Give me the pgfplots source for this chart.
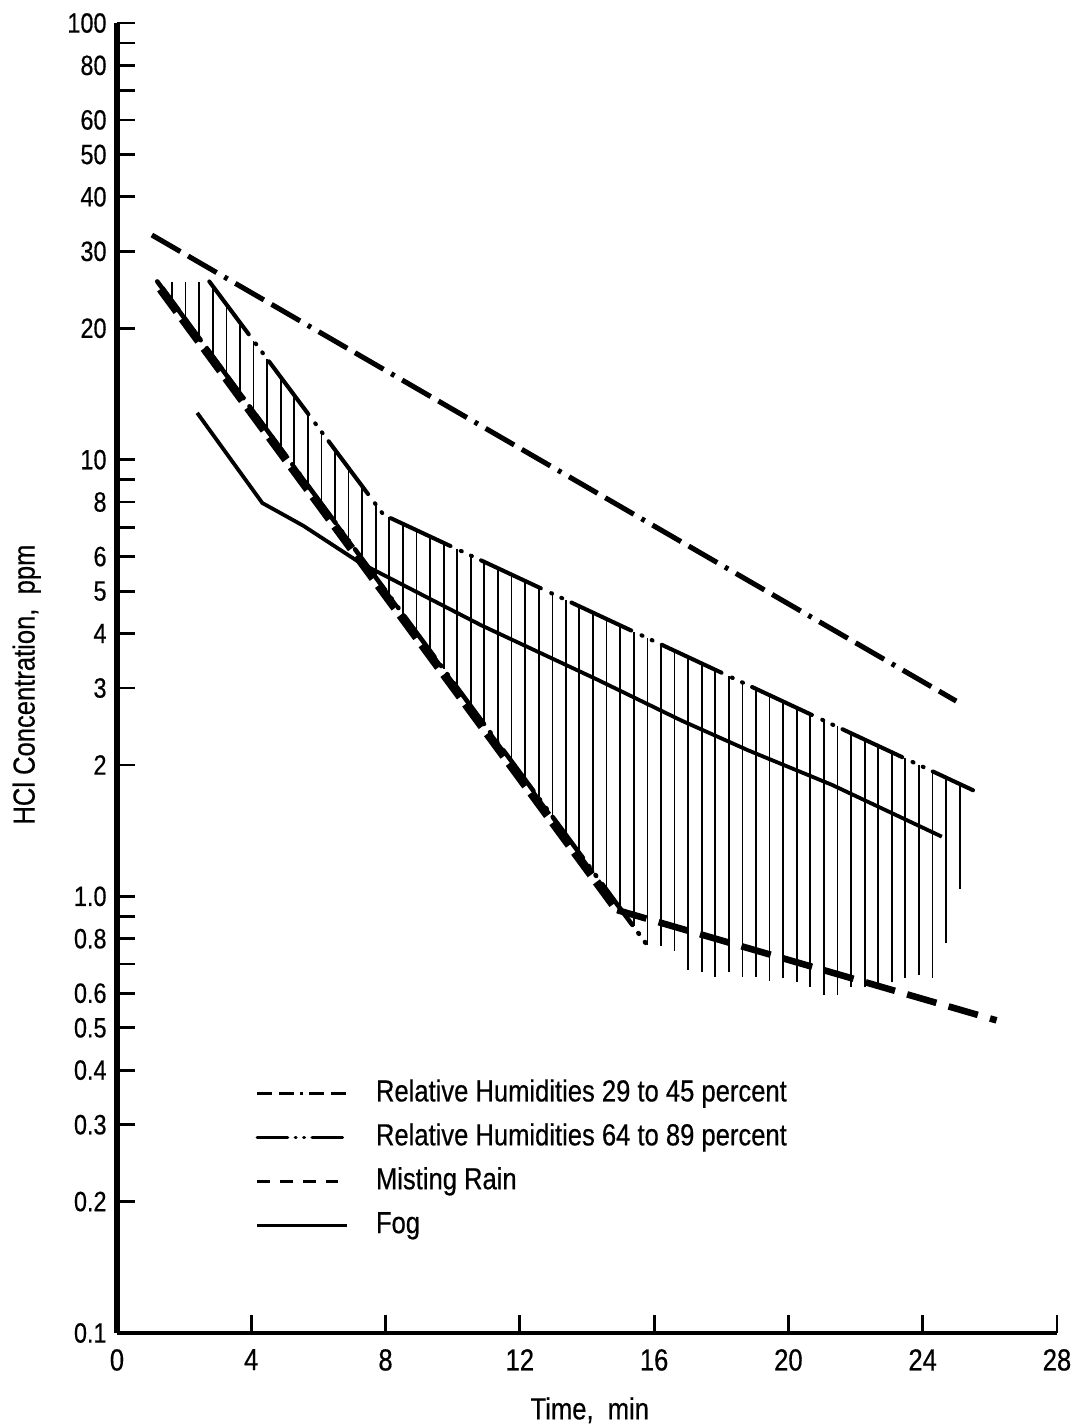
\documentclass[border=0pt]{standalone}
\usepackage{fontspec}
\setmainfont{Liberation Sans}[FakeStretch=0.84, FakeBold=0.5]
\usepackage{pgfplots}
\pgfplotsset{compat=1.18}
\begin{document}
\begin{tikzpicture}
\useasboundingbox (-1.620,-1.302) rectangle (13.380,18.463);
\begin{axis}[
  at={(0,0)}, anchor=south west,
  scale only axis, width=13.02cm, height=18.144cm,
  xmin=0, xmax=28, ymin=0.1, ymax=100,
  ymode=log,
  axis x line*=bottom, axis y line*=left,
  x axis line style={-, line width=1.8pt},
  y axis line style={-, line width=2.6pt},
  tick align=inside,
  major tick length=0.25cm,
  tick style={black, line width=1.1pt},
  xminorticks=false, yminorticks=false,
  xtick={0,4,8,12,16,20,24,28},
  xticklabels={0,4,8,12,16,20,24,28},
  ytick={0.1,0.2,0.3,0.4,0.5,0.6,0.7,0.8,0.9,1,2,3,4,5,6,7,8,9,10,20,30,40,50,60,70,80,90,100},
  yticklabels={0.1,0.2,0.3,0.4,0.5,0.6,{},0.8,{},1.0,2,3,4,5,6,{},8,{},10,20,30,40,50,60,{},80,{},100},
  xticklabel style={font=\fontsize{12}{14}\selectfont, yshift=-0.1cm},
  yticklabel style={font=\fontsize{11}{13}\selectfont, xshift=-0.02cm},
  xlabel={Time,\ \ min},
  ylabel={HCl Concentration,\ \ ppm},
  xlabel style={at={(axis description cs:0.503,0)}, anchor=center, yshift=-1.07cm, font=\fontsize{12}{14}\selectfont},
  ylabel style={at={(axis description cs:0,0.495)}, anchor=center, yshift=1.25cm, font=\fontsize{12}{14}\selectfont},
  legend style={at={(rel axis cs:0.1468,0.1946)}, anchor=north west, draw=none, fill=none, inner sep=0pt,
    row sep=5.3pt, column sep=0.37cm,
    nodes={inner sep=0pt, text height=9pt, text depth=3pt},
    font=\fontsize{12}{14}\selectfont},
  legend cell align=left,
  legend image code/.code={\draw[#1] (0cm,0cm) -- (1.25cm,0cm);},
]
% legend entries
\addlegendimage{black, line width=1.3pt, dash pattern=on 6pt off 2.5pt on 6pt off 2.5pt on 1pt off 2.5pt}
\addlegendentry{Relative Humidities 29 to 45 percent}
\addlegendimage{black, line width=1.3pt, line cap=round, dash pattern=on 12pt off 3pt on 0.3pt off 3pt on 0.3pt off 3pt}
\addlegendentry{Relative Humidities 64 to 89 percent}
\addlegendimage{black, line width=1.4pt, dash pattern=on 5pt off 4pt}
\addlegendentry{Misting Rain}
\addlegendimage{black, line width=1.2pt}
\addlegendentry{Fog}

% hatching (range of RH 64-89 data)
\addplot[forget plot, black, line width=0.7pt, unbounded coords=jump] coordinates {
(1.64,23.1) (1.64,25.5) (1.64,nan)
(2.04,21.0) (2.04,25.5) (2.04,nan)
(2.45,19.05) (2.45,25.5) (2.45,nan)
(2.85,17.3) (2.85,25.0) (2.85,nan)
(3.26,15.7) (3.26,22.7) (3.26,nan)
(3.66,14.25) (3.66,20.6) (3.66,nan)
(4.07,12.9) (4.07,18.7) (4.07,nan)
(4.47,11.7) (4.47,17.0) (4.47,nan)
(4.88,10.6) (4.88,15.45) (4.88,nan)
(5.28,9.66) (5.28,14.05) (5.28,nan)
(5.69,8.75) (5.69,12.75) (5.69,nan)
(6.09,7.95) (6.09,11.6) (6.09,nan)
(6.49,7.22) (6.49,10.55) (6.49,nan)
(6.90,6.55) (6.90,9.57) (6.90,nan)
(7.30,5.95) (7.30,8.71) (7.30,nan)
(7.71,5.39) (7.71,7.90) (7.71,nan)
(8.11,4.90) (8.11,7.38) (8.11,nan)
(8.52,4.44) (8.52,7.13) (8.52,nan)
(8.92,4.03) (8.92,6.90) (8.92,nan)
(9.33,3.66) (9.33,6.67) (9.33,nan)
(9.73,3.32) (9.73,6.45) (9.73,nan)
(10.13,3.02) (10.13,6.24) (10.13,nan)
(10.54,2.73) (10.54,6.04) (10.54,nan)
(10.94,2.48) (10.94,5.84) (10.94,nan)
(11.35,2.25) (11.35,5.64) (11.35,nan)
(11.75,2.05) (11.75,5.46) (11.75,nan)
(12.16,1.85) (12.16,5.28) (12.16,nan)
(12.56,1.68) (12.56,5.11) (12.56,nan)
(12.97,1.53) (12.97,4.94) (12.97,nan)
(13.37,1.39) (13.37,4.78) (13.37,nan)
(13.77,1.26) (13.77,4.62) (13.77,nan)
(14.18,1.14) (14.18,4.47) (14.18,nan)
(14.58,1.04) (14.58,4.32) (14.58,nan)
(14.99,0.94) (14.99,4.18) (14.99,nan)
(15.39,0.854) (15.39,4.04) (15.39,nan)
(15.80,0.774) (15.80,3.91) (15.80,nan)
(16.20,0.77) (16.20,3.78) (16.20,nan)
(16.61,0.75) (16.61,3.65) (16.61,nan)
(17.01,0.68) (17.01,3.54) (17.01,nan)
(17.42,0.67) (17.42,3.42) (17.42,nan)
(17.82,0.655) (17.82,3.31) (17.82,nan)
(18.22,0.67) (18.22,3.20) (18.22,nan)
(18.63,0.655) (18.63,3.09) (18.63,nan)
(19.03,0.655) (19.03,2.99) (19.03,nan)
(19.44,0.64) (19.44,2.89) (19.44,nan)
(19.84,0.65) (19.84,2.80) (19.84,nan)
(20.25,0.635) (20.25,2.70) (20.25,nan)
(20.65,0.62) (20.65,2.62) (20.65,nan)
(21.06,0.596) (21.06,2.53) (21.06,nan)
(21.46,0.596) (21.46,2.45) (21.46,nan)
(21.87,0.62) (21.87,2.37) (21.87,nan)
(22.27,0.62) (22.27,2.29) (22.27,nan)
(22.67,0.62) (22.67,2.21) (22.67,nan)
(23.08,0.635) (23.08,2.14) (23.08,nan)
(23.48,0.65) (23.48,2.07) (23.48,nan)
(23.89,0.66) (23.89,2.00) (23.89,nan)
(24.29,0.65) (24.29,1.94) (24.29,nan)
(24.70,0.78) (24.70,1.87) (24.70,nan)
(25.10,1.04) (25.10,1.81)
};

% RH 29-45
\addplot[forget plot, black, line width=2pt, dash pattern=on 13pt off 3.5pt on 13pt off 3.5pt on 1.5pt off 3.5pt]
  coordinates {(1.04,32.7) (25.0,2.8)};
% RH 64-89 upper bound
\addplot[forget plot, black, line width=1.6pt, line cap=round, dash pattern=on 26pt off 4.5pt on 0.4pt off 4pt on 0.4pt off 4pt]
  coordinates {(2.75,25.6) (7.94,7.48) (25.5,1.75)};
% RH 64-89 lower bound
\addplot[forget plot, black, line width=1.8pt, line cap=round, dash pattern=on 20pt off 4pt on 0.4pt off 4pt on 0.4pt off 4pt]
  coordinates {(1.2,25.6) (15.76,0.78)};
% Misting rain
\addplot[forget plot, black, line width=3.4pt, dash pattern=on 11pt off 3.5pt]
  coordinates {(1.3,24.6) (14.9,0.93)};
\addplot[forget plot, black, line width=2.6pt, dash pattern=on 12pt off 5pt]
  coordinates {(14.9,0.93) (26.2,0.52)};
% Fog
\addplot[forget plot, black, line width=1.5pt]
  coordinates {(2.39,12.8) (4.33,7.96) (5.55,7.06) (7.25,5.8) (10.84,4.18) (14.33,3.13) (16.8,2.53) (18.8,2.16) (21.3,1.80) (24.57,1.37)};
\end{axis}
\end{tikzpicture}
\end{document}
